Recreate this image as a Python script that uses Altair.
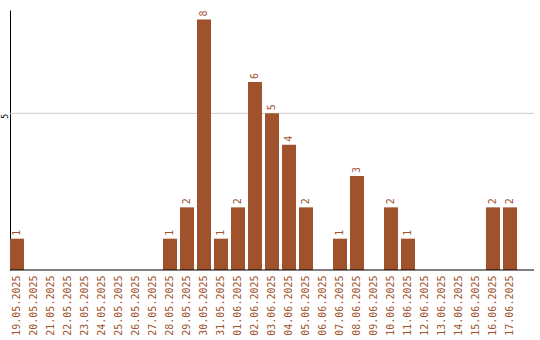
import altair as alt
import pandas as pd

dates = ["19.05.2025", "20.05.2025", "21.05.2025", "22.05.2025", "23.05.2025",
         "24.05.2025", "25.05.2025", "26.05.2025", "27.05.2025", "28.05.2025",
         "29.05.2025", "30.05.2025", "31.05.2025", "01.06.2025", "02.06.2025",
         "03.06.2025", "04.06.2025", "05.06.2025", "06.06.2025", "07.06.2025",
         "08.06.2025", "09.06.2025", "10.06.2025", "11.06.2025", "12.06.2025",
         "13.06.2025", "14.06.2025", "15.06.2025", "16.06.2025", "17.06.2025"]
counts = [1, 0, 0, 0, 0, 0, 0, 0, 0, 1,
          2, 8, 1, 2, 6, 5, 4, 2, 0, 1,
          3, 0, 2, 1, 0, 0, 0, 0, 2, 2]

df = pd.DataFrame({"date": dates, "count": counts})

COLOR = "#a0522d"
FONT = "DejaVu Sans Mono"

x = alt.X("date:N", sort=None, title=None,
          scale=alt.Scale(range=[0, 507], paddingInner=0.1765, paddingOuter=0),
          axis=alt.Axis(labelAngle=-90, labelColor=COLOR, labelFont=FONT,
                        labelFontSize=10, ticks=False, labelPadding=5,
                        domain=False, labelAlign="right",
                        labelBaseline="middle"))
y = alt.Y("count:Q", title=None,
          scale=alt.Scale(domain=[0, 8.3], nice=False),
          axis=alt.Axis(values=[5], labelAngle=-90, ticks=False, grid=False,
                        labelFont=FONT, labelFontSize=8, labelAlign="right",
                        labelBaseline="alphabetic",
                        labelColor="black", labelPadding=3, domainColor="black"))

grid = alt.Chart(df).transform_filter("datum.date == '19.05.2025'").mark_rule(
    color="#cccccc", strokeWidth=1
).encode(y=alt.datum(5), x=alt.value(0), x2=alt.value(524))
bars = alt.Chart(df).mark_bar(color=COLOR).encode(x=x, y=y)
labels = alt.Chart(df).transform_filter("datum.count > 0").mark_text(
    angle=270, align="left", baseline="middle", dx=3, color=COLOR,
    font=FONT, fontSize=10
).encode(x=alt.X("date:N", sort=None), y="count:Q", text="count:Q")
baseline = alt.Chart(df).transform_filter("datum.date == '19.05.2025'").mark_rule(
    color="black", strokeWidth=1
).encode(x=alt.value(0), x2=alt.value(524), y=alt.value(260))

chart = (grid + bars + labels + baseline).properties(
    width=524, height=260,
    autosize=alt.AutoSizeParams(type="none"),
    padding={"left": 10, "top": 10, "right": 6, "bottom": 70},
).configure_view(stroke=None).configure_axis(domainWidth=1)

chart.save("out.html", embed_options={"renderer": "svg", "actions": False})
